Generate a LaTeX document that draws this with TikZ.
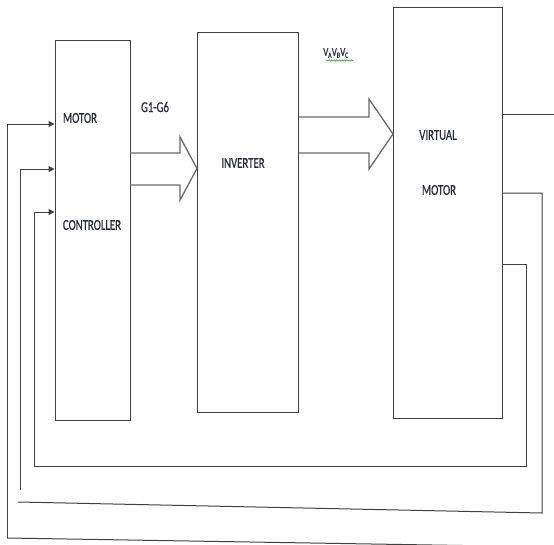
\documentclass[tikz,border=0pt]{standalone}
\usepackage{fontspec}
\setmainfont{Carlito}
\newfontfamily\lblfont[FakeBold=0.8]{Carlito}
\usetikzlibrary{arrows.meta,decorations.pathmorphing}
\definecolor{txt}{RGB}{38,44,60}
\definecolor{ln}{RGB}{64,64,64}
\definecolor{fat}{RGB}{105,105,105}
\definecolor{sq}{RGB}{60,160,60}
\tikzset{
  blk/.style={draw=ln, line width=1pt, rectangle, inner sep=0pt},
  lbl/.style={text=txt, font=\lblfont\fontsize{15}{15}\selectfont, inner sep=0pt, xscale=0.72, transform shape},
  fb/.style={draw=ln, line width=1pt},
  fbarrow/.style={fb, -{Triangle[length=6pt,width=6pt]}},
  fatarrow/.style={draw=fat, line width=1.3pt, line join=miter}
}
\begin{document}
\begin{tikzpicture}[x=1pt,y=-1pt]
\useasboundingbox (0,0) rectangle (554,544);
% blocks
\node[blk, minimum width=75pt, minimum height=380pt] (ctl) at (92.5,230) {};
\node[blk, minimum width=101pt, minimum height=380pt] (inv) at (247.5,222) {};
\node[blk, minimum width=109pt, minimum height=411pt] (vm) at (447.5,212.5) {};
% labels
\node[lbl] (t1) at (80,118) {MOTOR};
\node[lbl] (t2) at (92,225) {CONTROLLER};
\node[lbl] (t3) at (243,163) {INVERTER};
\node[lbl] (t4) at (438,135) {VIRTUAL};
\node[lbl] (t5) at (439,190) {MOTOR};
\node[lbl] (g) at (155,107) {G1-G6};
\node[lbl, font=\lblfont\fontsize{12}{12}\selectfont] (v) at (336,53) {V\textsubscript{A}V\textsubscript{B}V\textsubscript{C}};
\draw[sq, line width=0.6pt, decorate, decoration={snake, amplitude=0.7pt, segment length=2.5pt}] (326,60.5) -- (353,60.5);
% fat arrows
\draw[fatarrow] (130,153) -- (180,153) -- (180,137) -- (197,168.5) -- (180,200) -- (180,185) -- (130,185);
\draw[fatarrow] (299,117) -- (369,117) -- (369,99) -- (393,134) -- (369,169) -- (369,153) -- (299,153);
% feedback coordinates
\coordinate (o1) at (554,114);
\coordinate (o2) at (554,547);
\coordinate (o3) at (7,538);
\coordinate (o4) at (7,124);
\coordinate (m1) at (542,193);
\coordinate (m2) at (542,513);
\coordinate (m3) at (18,502);
\coordinate (m4) at (20,490);
\coordinate (m5) at (20,169);
\coordinate (i1) at (526,264);
\coordinate (i2) at (526,466);
\coordinate (i3) at (34,466);
\coordinate (i4) at (34,212);
% outer loop
\draw[fb] (vm.east |- o1) -- (o1);
\draw[fb] (o2) -- (o3);
\draw[fbarrow] (o3) -- (o4) -- (ctl.west |- o4);
% middle loop
\draw[fb] (vm.east |- m1) -- (m1) -- (m2) -- (m3);
\draw[fbarrow] (m4) -- (m5) -- (ctl.west |- m5);
% inner loop
\draw[fbarrow] (vm.east |- i1) -- (i1) -- (i2) -- (i3) -- (i4) -- (ctl.west |- i4);
\end{tikzpicture}
\end{document}
